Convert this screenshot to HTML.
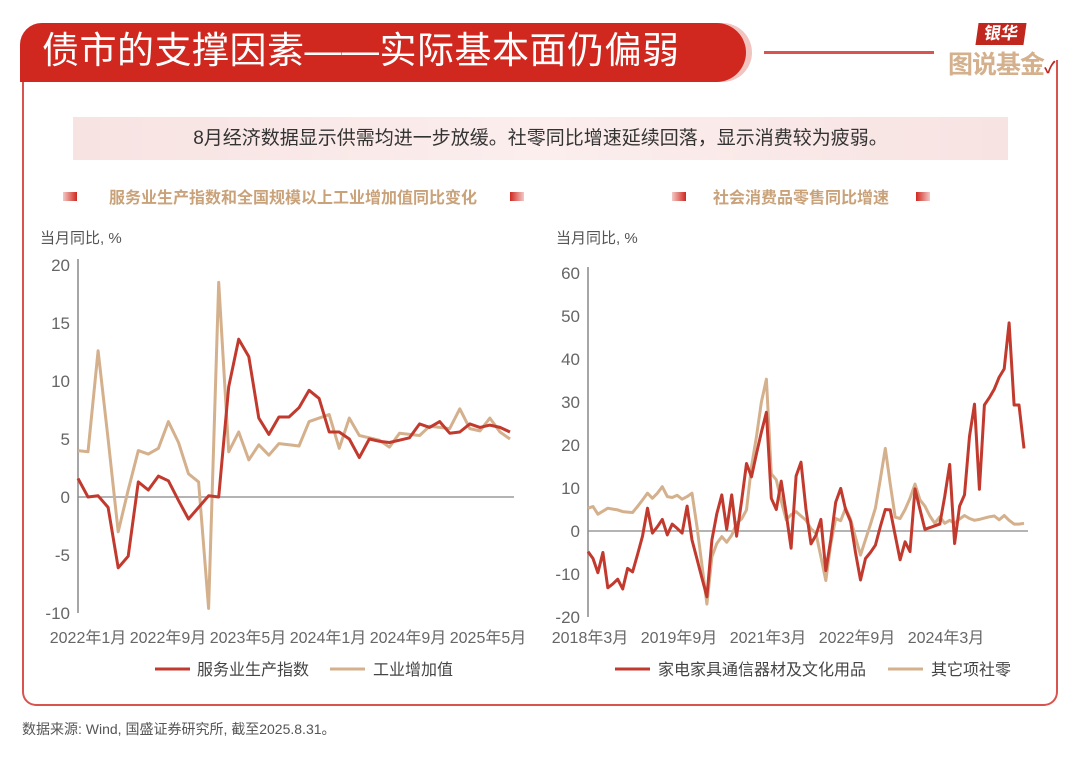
<!DOCTYPE html>
<html><head><meta charset="utf-8">
<style>
body{margin:0;width:1080px;height:759px;background:#fff;position:relative;overflow:hidden;font-family:"Liberation Sans","Noto Sans CJK SC",sans-serif;}
.abs{position:absolute;}
</style></head>
<body>
<div class="abs" style="left:22px;top:60px;width:1032px;height:644px;border:2px solid #d9534f;border-top:none;border-radius:0 0 14px 14px;"></div>
<div class="abs" style="left:20px;top:23px;width:726px;height:59px;background:#d0281f;border-radius:22px 30px 30px 0;box-shadow:6px 0 0 #f2c4c0;"></div>
<div class="abs" style="left:42px;top:27px;color:#fff;font-size:37px;font-weight:normal;letter-spacing:0.5px;line-height:48px;">债市的支撑因素——实际基本面仍偏弱</div>
<div class="abs" style="left:764px;top:51px;width:170px;height:3px;background:#d9534f;"></div>
<div class="abs" style="left:977px;top:23px;width:48px;height:22px;background:#c0281f;color:#fff;font-size:17px;font-weight:bold;text-align:center;line-height:22px;transform:skew(-8deg);">银华</div>
<div class="abs" style="left:948px;top:45px;color:#d4b08c;font-size:25px;font-weight:bold;letter-spacing:-1px;">图说基金<span style="color:#c0281f;font-size:16px;">✓</span></div>
<div class="abs" style="left:73px;top:117px;width:935px;height:43px;background:linear-gradient(90deg,#f7e3e2,#fbeeed 50%,#f7e3e2);"></div>
<div class="abs" style="left:73px;top:117px;width:935px;height:43px;line-height:43px;text-align:center;font-size:19px;color:#333;">8月经济数据显示供需均进一步放缓。社零同比增速延续回落，显示消费较为疲弱。</div>
<svg class="abs" style="left:0;top:0" width="1080" height="759">
<defs>
<linearGradient id="sqL" x1="0" x2="1"><stop offset="0" stop-color="#f3c9c6"/><stop offset="1" stop-color="#d0281f"/></linearGradient>
<linearGradient id="sqR" x1="0" x2="1"><stop offset="0" stop-color="#d0281f"/><stop offset="1" stop-color="#f3c9c6"/></linearGradient>
</defs>
<g>
<rect x="63" y="192" width="14" height="9" fill="url(#sqL)"/><rect x="510" y="192" width="14" height="9" fill="url(#sqR)"/>
<text x="293" y="203" text-anchor="middle" font-size="16" font-weight="bold" fill="#c9a27a">服务业生产指数和全国规模以上工业增加值同比变化</text></g>
<g>
<rect x="672" y="192" width="14" height="9" fill="url(#sqL)"/><rect x="916" y="192" width="14" height="9" fill="url(#sqR)"/>
<text x="801" y="203" text-anchor="middle" font-size="16" font-weight="bold" fill="#c9a27a">社会消费品零售同比增速</text></g>
<text x="40" y="243" font-size="15" fill="#555">当月同比, %</text>
<text x="556" y="243" font-size="15" fill="#555">当月同比, %</text>
<g id="L"></g><g id="R"></g>
<g>
<line x1="155" y1="669" x2="190" y2="669" stroke="#c23a2e" stroke-width="3"/><text x="197" y="675" font-size="16" fill="#444">服务业生产指数</text>
<line x1="330" y1="669" x2="365" y2="669" stroke="#d4b08c" stroke-width="3"/><text x="373" y="675" font-size="16" fill="#444">工业增加值</text></g>
<g>
<line x1="615" y1="669" x2="650" y2="669" stroke="#c23a2e" stroke-width="3"/><text x="658" y="675" font-size="16" fill="#444">家电家具通信器材及文化用品</text>
<line x1="888" y1="669" x2="923" y2="669" stroke="#d4b08c" stroke-width="3"/><text x="931" y="675" font-size="16" fill="#444">其它项社零</text></g>
</svg>
<div class="abs" style="left:22px;top:719px;font-size:14px;color:#555;">数据来源: Wind, 国盛证券研究所, 截至2025.8.31。</div>
<script>
const leftTicks=[20,15,10,5,0,-5,-10];
const leftXLabels=["2022年1月","2022年9月","2023年5月","2024年1月","2024年9月","2025年5月"];
const serviceIdx=[1.6,0,0.1,-0.9,-6.1,-5.1,1.3,0.6,1.8,1.4,-0.3,-1.9,-0.9,0.1,0,9.5,13.6,12.1,6.8,5.4,6.9,6.9,7.7,9.2,8.5,5.6,5.6,5.0,3.4,5.0,4.8,4.7,4.9,5.1,6.3,6.0,6.5,5.5,5.6,6.3,6.0,6.2,6.0,5.6];
const industryVal=[4.0,3.9,12.6,5.0,-3.0,0.6,4.0,3.7,4.2,6.5,4.7,2.0,1.3,-9.6,18.5,3.9,5.6,3.2,4.5,3.6,4.6,4.5,4.4,6.5,6.8,7.1,4.2,6.8,5.3,5.1,4.9,4.3,5.5,5.4,5.3,6.1,6.0,5.9,7.6,5.9,5.7,6.8,5.6,5.0];
const rightTicks=[60,50,40,30,20,10,0,-10,-20];
const rightXLabels=["2018年3月","2019年9月","2021年3月","2022年9月","2024年3月"];
const appliance=[-4.8,-6.4,-9.7,-5.0,-13.2,-12.3,-11.2,-13.5,-8.7,-9.5,-5.5,-1.2,5.3,-0.5,1.0,2.7,-0.9,1.6,0.6,-0.5,5.8,-2.1,-6.5,-11,-15.3,-2.1,4,8.4,0.4,8.4,-1.2,7,15.7,12.6,18,23,27.6,7.6,5.0,11.6,4,-4.0,12.8,16.0,5,-3.0,-1,2.7,-9.2,-2,6.7,9.9,5,2.2,-5,-11.4,-6.4,-5,-3.3,1,5.0,4.9,-1,-6.7,-2.5,-4.8,9.8,5,0.4,0.8,1.2,1.6,8,15.5,-2.9,5.8,8.4,22,29.5,9.7,29.3,31,33,35.8,37.7,48.4,29.3,29.3,19.2];
const otherRetail=[5.3,5.7,3.9,4.6,5.3,5.1,4.9,4.5,4.4,4.3,5.7,7.2,8.8,7.6,8.8,10.3,8.0,7.8,8.3,7.4,8.0,8.8,1,-8,-17,-6,-2.9,-1.3,-2.6,-1,1.8,2.8,4.9,15,22,30,35.3,13.3,11.9,7,2.6,3.8,4.5,3.5,2.5,0.5,-0.5,-6,-11.5,-3,2.9,2.4,5.3,2.7,-1.5,-5.6,-2,1.5,5.3,12,19.2,11,3.2,2.9,5,7.6,10.9,7.2,5.8,3.5,1.8,3.3,1.8,2.5,1.8,2.8,3.6,2.9,2.5,2.7,3.0,3.3,3.5,2.6,3.6,2.5,1.6,1.6,1.8];
const NS="http://www.w3.org/2000/svg";
function mk(tag,attrs,parent){const e=document.createElementNS(NS,tag);for(const k in attrs)e.setAttribute(k,attrs[k]);parent.appendChild(e);return e;}
function chart(g,cfg){
  const y=v=>cfg.y0-(v-cfg.vmin)/(cfg.vmax-cfg.vmin)*(cfg.y0-cfg.y1);
  const n=cfg.series[0].data.length;
  const x=i=>cfg.x0+i*(cfg.x1-cfg.x0)/(n-1);
  const ax=mk('line',{x1:cfg.x0,y1:cfg.y1-6,x2:cfg.x0,y2:cfg.y0,stroke:'#888','stroke-width':1.5},g);
  
  
  const zl=mk('line',{x1:cfg.x0,y1:y(0),x2:cfg.x1+4,y2:y(0),stroke:'#888','stroke-width':1.2},g);
  
  
  cfg.ticks.forEach(t=>{const e=mk('text',{x:cfg.x0-8,y:y(t)+6,'text-anchor':'end','font-size':17,fill:'#666'},g);e.textContent=t;
    
    });
  cfg.xlabels.forEach((l,i)=>{const e=mk('text',{x:cfg.lx0+i*cfg.ldx,y:643,'text-anchor':'middle','font-size':16,fill:'#666'},g);e.textContent=l;
    
    });
  cfg.series.slice().reverse().forEach(s=>{
    const p=mk('polyline',{points:s.data.map((v,i)=>x(i).toFixed(1)+','+y(v).toFixed(1)).join(' '),fill:'none',stroke:s.color,'stroke-width':3,'stroke-linejoin':'round'},g);
    
    
  });
}
chart(document.getElementById('L'),{x0:78,x1:510,y0:613,y1:265,vmin:-10,vmax:20,ticks:leftTicks,xlabels:leftXLabels,lx0:88,ldx:80,
  series:[{data:industryVal,color:'#d4b08c',name:'industry-value-added-line'},{data:serviceIdx,color:'#c23a2e',name:'service-production-index-line'}].reverse()});
chart(document.getElementById('R'),{x0:588,x1:1024,y0:617,y1:273,vmin:-20,vmax:60,ticks:rightTicks,xlabels:rightXLabels,lx0:590,ldx:89,
  series:[{data:appliance,color:'#c23a2e',name:'appliance-retail-line'},{data:otherRetail,color:'#d4b08c',name:'other-retail-line'}]});
</script>
</body></html>
